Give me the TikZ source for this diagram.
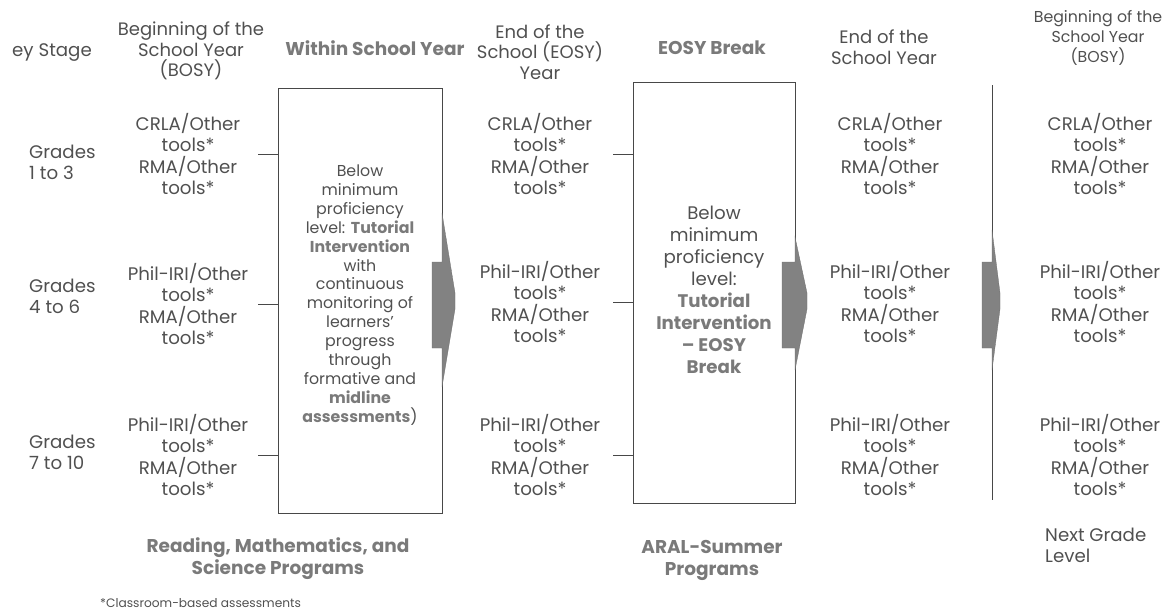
\documentclass[tikz,border=0pt]{standalone}
\usepackage{fontspec}
\setmainfont{Poppins}
\usetikzlibrary{positioning}

\definecolor{InkGrey}{RGB}{80,80,80}
\definecolor{HeadGrey}{RGB}{122,122,122}
\definecolor{RuleGrey}{RGB}{72,72,72}
\definecolor{WedgeGrey}{RGB}{130,130,130}

\tikzset{
  col/.style={align=center, inner sep=0pt, text=InkGrey, font=\fontsize{18.2}{21.5}\selectfont},
  colhead/.style={col, font=\fontsize{18}{20.5}\selectfont},
  boldhead/.style={col, text=HeadGrey, font=\fontsize{18.5}{22}\selectfont\bfseries},
  grade/.style={align=left, anchor=west, inner sep=0pt, text=InkGrey, font=\fontsize{18.2}{21}\selectfont},
  boxtext/.style={col, font=\fontsize{15.8}{18.9}\selectfont},
  stagebox/.style={draw=RuleGrey, line width=0.8pt, inner sep=0pt},
  tick/.style={draw=RuleGrey, line width=1pt},
  wedge/.style={fill=WedgeGrey, draw=WedgeGrey!85!black, line width=0.3pt},
}

\newcommand{\hl}[1]{{\bfseries\color{HeadGrey}#1}}

\begin{document}
\begin{tikzpicture}[x=1pt, y=-1pt]

  \useasboundingbox (0,0) rectangle (1167,610);

  % headings
  \node[grade] (keyhead) at (12,53) {ey Stage};
  \node[colhead] (bosyhead) at (191,51) {Beginning of the\\School Year\\(BOSY)};
  \node[boldhead] (wsyhead) at (375,48) {Within School Year};
  \node[colhead] (eosyhead) at (540,52) {End of the\\School (EOSY)\\Year};
  \node[boldhead] (brkhead) at (712,48) {EOSY Break};
  \node[colhead] (eoyhead) at (884,47) {End of the\\School Year};
  \node[colhead, font=\fontsize{15.8}{20}\selectfont] (nexthead) at (1098,38) {Beginning of the\\School Year\\(BOSY)};

  % grade rows
  \node[grade] (gradeA) at (29,162) {Grades\\1 to 3};
  \node[grade] (gradeB) at (29,296) {Grades\\4 to 6};
  \node[grade] (gradeC) at (29,452) {Grades\\7 to 10};

  % assessment tools per column
  \node[col] (bosyA) at (188,154) {CRLA/Other\\tools*\\RMA/Other\\tools*};
  \node[col] (bosyB) at (188,304) {Phil-IRI/Other\\tools*\\RMA/Other\\tools*};
  \node[col] (bosyC) at (188,455) {Phil-IRI/Other\\tools*\\RMA/Other\\tools*};

  \node[col] (eosyA) at (540,154) {CRLA/Other\\tools*\\RMA/Other\\tools*};
  \node[col] (eosyB) at (540,302) {Phil-IRI/Other\\tools*\\RMA/Other\\tools*};
  \node[col] (eosyC) at (540,455) {Phil-IRI/Other\\tools*\\RMA/Other\\tools*};

  \node[col] (eoyA) at (890,154) {CRLA/Other\\tools*\\RMA/Other\\tools*};
  \node[col] (eoyB) at (890,302) {Phil-IRI/Other\\tools*\\RMA/Other\\tools*};
  \node[col] (eoyC) at (890,455) {Phil-IRI/Other\\tools*\\RMA/Other\\tools*};

  \node[col] (nextA) at (1100,154) {CRLA/Other\\tools*\\RMA/Other\\tools*};
  \node[col] (nextB) at (1100,302) {Phil-IRI/Other\\tools*\\RMA/Other\\tools*};
  \node[col] (nextC) at (1100,455) {Phil-IRI/Other\\tools*\\RMA/Other\\tools*};

  % intervention boxes
  \node[stagebox, minimum width=164pt, minimum height=425pt] (wsy) at (360,300.5) {};
  \node[stagebox, minimum width=162pt, minimum height=421pt] (brk) at (714,292.5) {};

  \node[boxtext] (wsytext) at (360,295) {Below\\minimum\\proficiency\\level: \hl{Tutorial}\\\hl{Intervention}\\with\\continuous\\monitoring of\\learners’\\progress\\through\\formative and\\\hl{midline}\\\hl{assessments})};
  \node[col, font=\fontsize{18.2}{22}\selectfont] (brktext) at (714,290) {Below\\minimum\\proficiency\\level:\\\hl{Tutorial}\\\hl{Intervention}\\\hl{– EOSY}\\\hl{Break}};

  \foreach \row in {A,B,C} {
    \draw[tick] (wsy.west |- bosy\row) -- ++(-20,0);
    \draw[tick] (brk.west |- eosy\row) -- ++(-20,0);
  }

  % end of year divider
  \draw[RuleGrey, line width=1pt] (992,85) -- (992,500);

  % stage arrows
  \foreach \ex/\tip/\top/\bot/\back in {442/455/213/387/432, 795/807/237/370/782, 992/1000/230/370/982} {
    \filldraw[wedge] (\ex,\top) -- (\tip,293) -- (\tip,309) -- (\ex,\bot) -- (\ex,348)
      -- (\back,348) -- (\back,262) -- (\ex,262) -- cycle;
  }

  % programmes
  \node[boldhead] (wsyprog) at (278,559) {Reading, Mathematics, and\\Science Programs};
  \node[boldhead] (brkprog) at (712,560) {ARAL-Summer\\Programs};
  \node[grade] (nextlevel) at (1045,545) {Next Grade\\Level};

  \node[grade, font=\fontsize{12.2}{14}\selectfont] (footnote) at (100,603) {*Classroom-based assessments};

\end{tikzpicture}
\end{document}
